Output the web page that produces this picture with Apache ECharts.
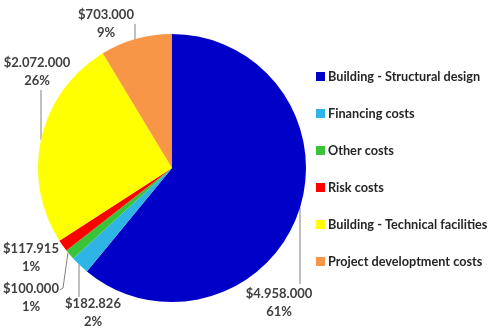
<!DOCTYPE html>
<html><head><meta charset="utf-8">
<script src="https://cdn.jsdelivr.net/npm/echarts@6/dist/echarts.min.js"></script>
<style>html,body{margin:0;padding:0;background:#fff}#c{width:490px;height:332px}</style>
</head><body><div id="c"></div>
<script>
const categories = ['Building - Structural design','Financing costs','Other costs','Risk costs','Building - Technical facilities','Project developtment costs'];
const values = [4958000, 182826, 100000, 117915, 2072000, 703000];
const percentLabels = [61, 2, 1, 1, 26, 9];
const colors = ['#0000C8','#2FB4E6','#39C339','#FF0000','#FFFF00','#F79646'];

// label styling / placement (presentation only)
const CX = 172, CY = 168, R = 134;
function edge(x, s){ return [x, CY + s*Math.sqrt(Math.max(0, R*R-(x-CX)*(x-CX)))]; }
const labelPlace = [
  {x:279, y:303, line:[edge(300,1),[300,284]]},
  {x:93,  y:313, line:[edge(79,1),[79,297]]},
  {x:31,  y:298, line:[edge(68,1),[63,288],[60,290]]},
  {x:31,  y:258, line:null},
  {x:37,  y:72,  line:[edge(41,-1),[41,90]]},
  {x:106, y:24,  line:[edge(135,-1),[135,24]]}
];

function fmt(v){ return '$' + String(v).replace(/\B(?=(\d{3})+(?!\d))/g,'.'); }

const chart = echarts.init(document.getElementById('c'), null, {renderer:'canvas'});
chart.setOption({
  animation:false,
  color: colors,
  legend:{
    orient:'vertical', left:311, top:65, icon:'rect', itemWidth:9, itemHeight:9,
    itemGap:24,
    textStyle:{fontFamily:'Lato', fontWeight:'bold', fontSize:12.7, color:'#262626', padding:[0,0,0,-2]},
    data: categories
  },
  series:[{
    type:'pie', center:[CX, CY], radius:R, startAngle:90, clockwise:true,
    avoidLabelOverlap:false,
    data: categories.map((n,i)=>({name:n, value:values[i], labelLine:{show: !!labelPlace[i].line}})),
    label:{show:true, position:'outside', fontFamily:'Lato', fontWeight:'bold', fontSize:13, color:'#404040', lineHeight:18,
      formatter: p => fmt(values[p.dataIndex]) + '\n' + percentLabels[p.dataIndex] + '%'},
    labelLine:{show:true, lineStyle:{color:'#808080', width:1}, length:5, length2:5},
    labelLayout: function(params){
      const lp = labelPlace[params.dataIndex];
      const o = {x:lp.x, y:lp.y, align:'center', verticalAlign:'middle'};
      if (lp.line) { const pts = lp.line.slice(); while (pts.length<3) pts.push(pts[pts.length-1]); o.labelLinePoints = pts; }
      return o;
    },
    itemStyle:{borderWidth:0},
    emphasis:{disabled:true}
  }]
});
</script></body></html>
